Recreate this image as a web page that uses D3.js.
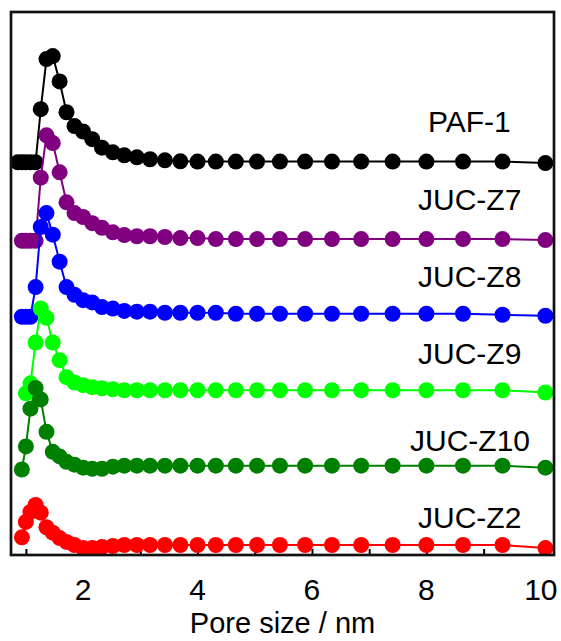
<!DOCTYPE html>
<html>
<head>
<meta charset="utf-8">
<script src="https://cdn.jsdelivr.net/npm/d3@7"></script>
<style>
  body { margin: 0; background: #fff; }
  svg { display: block; }
  text { font-family: "Liberation Sans", Arial, Helvetica, sans-serif; fill: #000; }
</style>
</head>
<body>
<svg id="chart" width="561" height="641"></svg>
<script>
// Pore sizes (nm) shared by all samples
const poreSizes = [0.86, 0.93, 1.0, 1.08, 1.17, 1.26, 1.36, 1.47, 1.59, 1.71,
  1.85, 2.0, 2.16, 2.33, 2.52, 2.72, 2.94, 3.17, 3.43, 3.70,
  4.0, 4.32, 4.67, 5.04, 5.44, 5.88, 6.35, 6.86, 7.41, 8.0, 8.64, 9.33, 10.08];

// Pore size distribution of each sample (relative units, null = not measured)
const paf1 = [0, 0, 0, 0, 0, 0.69, 1.34, 1.38, 1.05, 0.65,
  0.47, 0.40, 0.30, 0.19, 0.13, 0.09, 0.065, 0.04, 0.026, 0.013,
  0.01, 0.01, 0.01, 0.01, 0.01, 0.01, 0.01, 0.01, 0.01, 0.01, 0.01, 0.01, -0.01];
const jucZ7 = [null, -0.01, -0.01, -0.01, -0.01, 0.81, 1.36, 1.26, 0.88, 0.49,
  0.35, 0.30, 0.22, 0.16, 0.10, 0.065, 0.05, 0.05, 0.04, 0.026,
  0.026, 0.013, 0.013, 0.013, 0.013, 0.013, 0.013, 0.013, 0.013, 0.013, 0.013, 0.013, 0];
const jucZ8 = [null, -0.026, -0.026, -0.026, 0.36, 1.14, 1.32, 1.04, 0.69, 0.36,
  0.26, 0.19, 0.16, 0.10, 0.08, 0.05, 0.04, 0.04, 0.026, 0.026,
  0.026, 0.026, 0.013, 0.013, 0.013, 0.013, 0.013, 0.013, 0.013, 0.013, 0.013, 0, -0.013];
const jucZ9 = [null, null, -0.04, 0.09, 0.62, 1.06, 0.94, 0.62, 0.39, 0.17,
  0.10, 0.065, 0.04, 0.026, 0.013, 0, 0, 0, 0, 0,
  0, 0, 0, 0, 0, 0, 0, 0, 0, 0, 0, 0, -0.03];
const jucZ10 = [null, -0.05, 0.25, 0.74, 1.01, 0.86, 0.44, 0.18, 0.12, 0.05,
  0.013, -0.026, -0.04, -0.04, -0.013, 0, 0, 0, 0, 0,
  0, 0, 0, 0, 0, 0, 0, 0, 0, 0, 0, 0, -0.026];
const jucZ2 = [null, 0.10, 0.30, 0.43, 0.52, 0.42, 0.23, 0.16, 0.09, 0.04,
  0, -0.04, -0.04, -0.026, -0.013, 0, 0, 0, 0, 0,
  0, 0, 0, 0, 0, 0, 0, 0, 0, 0, 0, 0, -0.04];

// Sample names, colours and vertical stacking offsets
const sampleNames = ["PAF-1", "JUC-Z7", "JUC-Z8", "JUC-Z9", "JUC-Z10", "JUC-Z2"];
const sampleValues = [paf1, jucZ7, jucZ8, jucZ9, jucZ10, jucZ2];
const sampleColors = ["#000000", "#800080", "#0000ff", "#00ff00", "#008000", "#ff0000"];
const sampleOffsets = [5.1, 4.09, 3.12, 2.14, 1.16, 0.13];

// x-axis ticks
const xTicks = [1, 2, 3, 4, 5, 6, 7, 8, 9, 10];
const xTickLabels = [2, 4, 6, 8, 10];

const svg = d3.select("#chart");
const plot = { left: 11, top: 12, right: 554, bottom: 555 };

const x = d3.scaleLinear().domain([0.74, 10.23]).range([plot.left, plot.right]);
const y = d3.scaleLinear().domain([0, 7.052]).range([plot.bottom, plot.top]);

// inward ticks along the bottom
const xAxis = d3.axisTop(x).tickValues(xTicks).tickSize(6).tickFormat("");
const axisG = svg.append("g").attr("transform", `translate(0,${plot.bottom})`).call(xAxis);
axisG.select(".domain").remove();
axisG.selectAll(".tick line").attr("stroke", "#000").attr("stroke-width", 2);

// tick labels
svg.append("g").selectAll("text").data(xTickLabels).join("text")
  .attr("x", d => x(d))
  .attr("y", 600)
  .attr("text-anchor", "middle")
  .attr("font-size", 30)
  .text(d => d);

// curves
const line = d3.line()
  .defined(d => d.v !== null)
  .x(d => x(d.s))
  .y(d => y(d.v + d.off));

sampleNames.forEach((name, i) => {
  const pts = poreSizes.map((s, j) => ({ s, v: sampleValues[i][j], off: sampleOffsets[i] }));
  const g = svg.append("g");
  g.append("path")
    .attr("d", line(pts))
    .attr("fill", "none")
    .attr("stroke", sampleColors[i])
    .attr("stroke-width", 2);
  g.selectAll("circle").data(pts.filter(d => d.v !== null)).join("circle")
    .attr("cx", d => x(d.s))
    .attr("cy", d => y(d.v + d.off))
    .attr("r", 8)
    .attr("fill", sampleColors[i]);
});

// sample labels
const labelPos = [[428, 132], [418, 210], [418, 287], [418, 364], [410, 451], [418, 528]];
svg.append("g").selectAll("text").data(sampleNames).join("text")
  .attr("x", (d, i) => labelPos[i][0])
  .attr("y", (d, i) => labelPos[i][1])
  .attr("font-size", 30)
  .text(d => d);

// frame
svg.append("rect")
  .attr("x", plot.left).attr("y", plot.top)
  .attr("width", plot.right - plot.left).attr("height", plot.bottom - plot.top)
  .attr("fill", "none").attr("stroke", "#111").attr("stroke-width", 2.7);

// axis title
svg.append("text")
  .attr("x", (plot.left + plot.right) / 2)
  .attr("y", 633)
  .attr("text-anchor", "middle")
  .attr("font-size", 29)
  .text("Pore size / nm");
</script>
</body>
</html>
